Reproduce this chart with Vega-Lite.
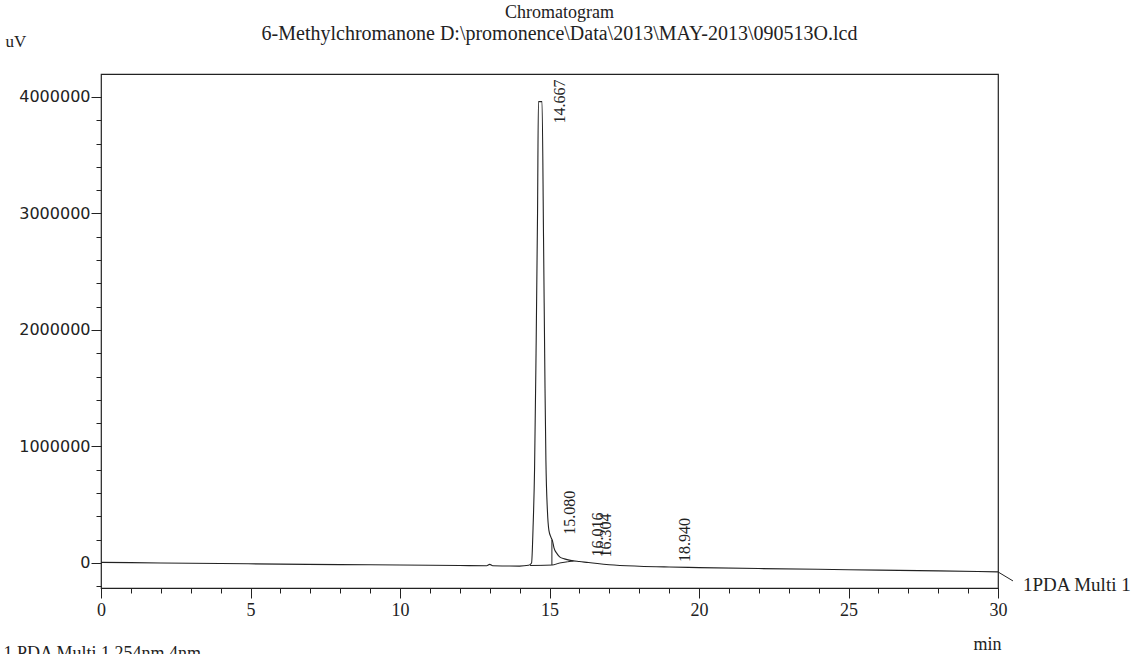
{
  "$schema": "https://vega.github.io/schema/vega-lite/v6.json",
  "width": 897,
  "height": 514,
  "autosize": {"type": "none"},
  "padding": {"left": 101, "top": 74, "right": 145, "bottom": 66},
  "background": "white",
  "config": {
    "view": {"stroke": "#222", "strokeWidth": 1.2},
    "font": "Liberation Serif"
  },
  "title": {
    "text": "Chromatogram",
    "subtitle": "6-Methylchromanone D:\\promonence\\Data\\2013\\MAY-2013\\090513O.lcd",
    "anchor": "middle",
    "font": "Liberation Serif",
    "fontSize": 18,
    "fontWeight": "normal",
    "color": "#222",
    "subtitleFont": "Liberation Serif",
    "subtitleFontSize": 20,
    "subtitleColor": "#222",
    "subtitlePadding": 2,
    "dx": 10,
    "offset": -12
  },
  "datasets": {
    "trace": [
      {"t": 0, "uV": 5000}, {"t": 2, "uV": 0}, {"t": 4, "uV": -5000}, {"t": 6, "uV": -10000},
      {"t": 8, "uV": -14000}, {"t": 10, "uV": -18000}, {"t": 12, "uV": -22000}, {"t": 12.9, "uV": -24000},
      {"t": 13.0, "uV": -12000}, {"t": 13.1, "uV": -24000}, {"t": 13.5, "uV": -26000}, {"t": 14.0, "uV": -27000},
      {"t": 14.3, "uV": -20000}, {"t": 14.4, "uV": 0}, {"t": 14.45, "uV": 300000}, {"t": 14.5, "uV": 800000},
      {"t": 14.55, "uV": 1800000}, {"t": 14.6, "uV": 3000000}, {"t": 14.63, "uV": 3960000}, {"t": 14.75, "uV": 3960000},
      {"t": 14.8, "uV": 2800000}, {"t": 14.85, "uV": 1500000}, {"t": 14.88, "uV": 880000}, {"t": 14.93, "uV": 450000},
      {"t": 14.98, "uV": 280000}, {"t": 15.05, "uV": 220000}, {"t": 15.1, "uV": 190000}, {"t": 15.15, "uV": 130000},
      {"t": 15.25, "uV": 80000}, {"t": 15.35, "uV": 50000}, {"t": 15.5, "uV": 35000}, {"t": 15.7, "uV": 22000},
      {"t": 16.0, "uV": 12000}, {"t": 16.3, "uV": 4000}, {"t": 16.6, "uV": -5000}, {"t": 17.0, "uV": -15000},
      {"t": 18.0, "uV": -28000}, {"t": 19.0, "uV": -35000}, {"t": 20.0, "uV": -40000}, {"t": 22.0, "uV": -48000},
      {"t": 25.0, "uV": -58000}, {"t": 28.0, "uV": -68000}, {"t": 30.0, "uV": -77000}
    ],
    "base": [
      {"t": 14.35, "uV": -22000}, {"t": 15.08, "uV": -18000}, {"t": 15.35, "uV": 0},
      {"t": 15.6, "uV": 10000}, {"t": 15.8, "uV": 17000}
    ],
    "drop": [{"t": 15.08, "v1": -18000, "v2": 200000}],
    "peaks": [
      {"rt": 14.667, "height": 3960000, "label": "14.667", "main": true},
      {"rt": 15.08, "height": 200000, "label": "15.080", "main": false},
      {"rt": 16.016, "height": 12000, "label": "16.016", "main": false},
      {"rt": 16.304, "height": 4000, "label": "16.304", "main": false},
      {"rt": 18.94, "height": -35000, "label": "18.940", "main": false}
    ],
    "channel": [{"t": 30, "uV": -77000, "t2": 30.5, "uV2": -154000, "name": "1PDA Multi 1"}]
  },
  "resolve": {"axis": {"x": "independent", "y": "independent"}},
  "layer": [
    {
      "data": {"name": "trace"},
      "mark": {"type": "line", "color": "#222", "strokeWidth": 1.1, "interpolate": "monotone"},
      "encoding": {
        "x": {
          "field": "t", "type": "quantitative",
          "scale": {"domain": [0, 30], "nice": false, "zero": false},
          "axis": {
            "orient": "bottom", "values": [0, 5, 10, 15, 20, 25, 30], "format": "d",
            "domain": false, "grid": false, "tickSize": 10, "tickColor": "#222",
            "labelFont": "Liberation Serif", "labelFontSize": 18, "labelColor": "#222", "labelPadding": 3,
            "labelFlush": false,
            "title": "min", "titleFont": "Liberation Serif", "titleFontSize": 18, "titleFontWeight": "normal",
            "titleColor": "#222", "titleAnchor": "end", "titleX": 900, "titleY": 56, "titleAlign": "right", "titleBaseline": "middle"
          }
        },
        "y": {
          "field": "uV", "type": "quantitative",
          "scale": {"domain": [-215000, 4197000], "nice": false, "zero": false},
          "axis": {
            "orient": "left", "values": [0, 1000000, 2000000, 3000000, 4000000], "format": "d",
            "domain": false, "grid": false, "tickSize": 10, "tickColor": "#222",
            "labelFont": "DejaVu Sans", "labelFontSize": 16, "labelColor": "#222", "labelPadding": 1,
            "title": "uV", "titleFont": "Liberation Serif", "titleFontSize": 17, "titleFontWeight": "normal",
            "titleColor": "#222", "titleAngle": 0, "titleX": -96, "titleY": -33, "titleAlign": "left", "titleBaseline": "middle"
          }
        }
      }
    },
    {
      "data": {"name": "base"},
      "mark": {"type": "line", "color": "#222", "strokeWidth": 1, "interpolate": "monotone"},
      "encoding": {
        "x": {
          "field": "t", "type": "quantitative",
          "axis": {
            "orient": "bottom", "values": [0,1,2,3,4,5,6,7,8,9,10,11,12,13,14,15,16,17,18,19,20,21,22,23,24,25,26,27,28,29,30],
            "labels": false, "domain": false, "grid": false, "tickSize": 5, "tickColor": "#222",
            "title": "1 PDA Multi 1 254nm,4nm", "titleFont": "Liberation Serif", "titleFontSize": 18, "titleFontWeight": "normal",
            "titleColor": "#222", "titleX": -98, "titleY": 70, "titleAlign": "left", "titleBaseline": "alphabetic", "titleAnchor": "start"
          }
        },
        "y": {
          "field": "uV", "type": "quantitative",
          "axis": {
            "orient": "left", "values": [-200000,0,200000,400000,600000,800000,1000000,1200000,1400000,1600000,1800000,2000000,2200000,2400000,2600000,2800000,3000000,3200000,3400000,3600000,3800000,4000000],
            "labels": false, "domain": false, "grid": false, "tickSize": 5, "tickColor": "#222", "title": null
          }
        }
      }
    },
    {
      "data": {"name": "drop"},
      "mark": {"type": "rule", "color": "#222", "strokeWidth": 1},
      "encoding": {
        "x": {"field": "t", "type": "quantitative", "axis": null},
        "y": {"field": "v1", "type": "quantitative", "axis": null},
        "y2": {"field": "v2"}
      }
    },
    {
      "data": {"name": "peaks"},
      "transform": [{"filter": "!datum.main"}],
      "mark": {"type": "text", "angle": 270, "align": "left", "baseline": "middle", "dx": 5, "dy": 18,
               "font": "Liberation Serif", "fontSize": 16, "color": "#222"},
      "encoding": {
        "x": {"field": "rt", "type": "quantitative", "axis": null},
        "y": {"field": "height", "type": "quantitative", "axis": null},
        "text": {"field": "label"}
      }
    },
    {
      "data": {"name": "peaks"},
      "transform": [{"filter": "datum.main"}],
      "mark": {"type": "text", "angle": 270, "align": "center", "baseline": "middle", "dx": 0, "dy": 20,
               "font": "Liberation Serif", "fontSize": 16, "color": "#222"},
      "encoding": {
        "x": {"field": "rt", "type": "quantitative", "axis": null},
        "y": {"field": "height", "type": "quantitative", "axis": null},
        "text": {"field": "label"}
      }
    },
    {
      "data": {"name": "channel"},
      "mark": {"type": "rule", "color": "#222", "strokeWidth": 1, "clip": false},
      "encoding": {
        "x": {"field": "t", "type": "quantitative", "axis": null},
        "y": {"field": "uV", "type": "quantitative", "axis": null},
        "x2": {"field": "t2"},
        "y2": {"field": "uV2"}
      }
    },
    {
      "data": {"name": "channel"},
      "mark": {"type": "text", "align": "left", "baseline": "middle", "dx": 25, "dy": 13, "clip": false,
               "font": "Liberation Serif", "fontSize": 19, "color": "#222"},
      "encoding": {
        "x": {"field": "t", "type": "quantitative", "axis": null},
        "y": {"field": "uV", "type": "quantitative", "axis": null},
        "text": {"field": "name"}
      }
    }
  ]
}
